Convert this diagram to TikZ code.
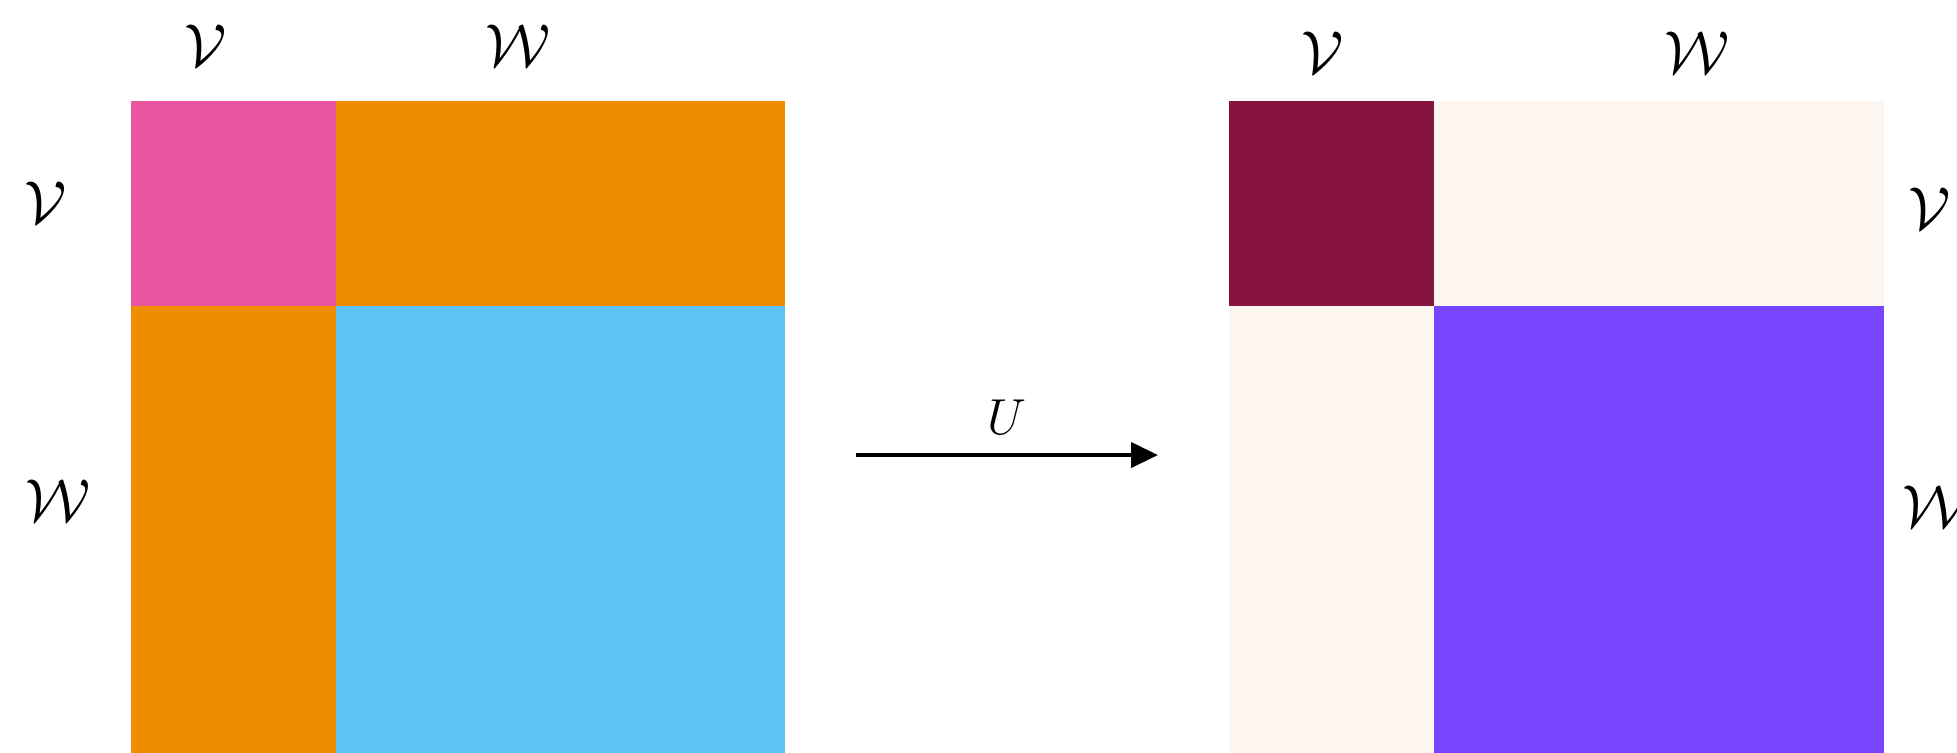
\documentclass[tikz,border=0pt]{standalone}
\usepackage{tikz}
\usetikzlibrary{arrows.meta, positioning}
\definecolor{pinkvv}{HTML}{EA55A0}
\definecolor{orangevw}{HTML}{F08C00}
\definecolor{bluew}{HTML}{5BC4F5}
\definecolor{maroonvv}{HTML}{861340}
\definecolor{creamvw}{HTML}{FDF6F0}
\definecolor{purplew}{HTML}{7744FF}

\begin{document}
\begin{tikzpicture}[
                  block/.style={
                              inner sep=0pt, outer sep=0pt, anchor=north west
                        },
                  lab/.style={font=\fontsize{18.5}{20}\selectfont},
                  arrow/.style={-{Triangle[length=0.27cm, width=0.25cm]}, line width=1.2pt},
            ]
            \useasboundingbox (0,0) rectangle (19.57,-7.52);

            % Left matrix
            \node[block, fill=pinkvv, minimum width=2.05cm, minimum height=2.05cm] (lvv) at (1.31,-1.01) {};
            \node[block, fill=orangevw, minimum width=4.49cm, minimum height=2.05cm] (lvw) at (lvv.north east) {};
            \node[block, fill=orangevw, minimum width=2.05cm, minimum height=4.51cm] (lwv) at (lvv.south west) {};
            \node[block, fill=bluew, minimum width=4.49cm, minimum height=4.51cm] (lww) at (lvv.south east) {};

            % Right matrix
            \node[block, fill=maroonvv, minimum width=2.05cm, minimum height=2.05cm] (rvv) at (12.29,-1.01) {};
            \node[block, fill=creamvw, minimum width=4.50cm, minimum height=2.05cm] (rvw) at (rvv.north east) {};
            \node[block, fill=creamvw, minimum width=2.05cm, minimum height=4.51cm] (rwv) at (rvv.south west) {};
            \node[block, fill=purplew, minimum width=4.50cm, minimum height=4.51cm] (rww) at (rvv.south east) {};

            % Labels
            \node[lab] (ltopv) at (2.06,-0.46) {$\mathcal{V}$};
            \node[lab] (ltopw) at (5.18,-0.46) {$\mathcal{W}$};
            \node[lab] (lsidev) at (0.46,-2.03) {$\mathcal{V}$};
            \node[lab] (lsidew) at (0.58,-5.01) {$\mathcal{W}$};
            \node[lab] (rtopv) at (13.23,-0.53) {$\mathcal{V}$};
            \node[lab] (rtopw) at (16.97,-0.53) {$\mathcal{W}$};
            \node[lab] (rsidev) at (19.30,-2.09) {$\mathcal{V}$};
            \node[lab] (rsidew) at (19.35,-5.07) {$\mathcal{W}$};

            % Map
            \coordinate (from) at (8.56,-4.55);
            \coordinate (to) at (11.58,-4.55);
            \draw[arrow] (from) -- node[above=2pt, font=\Large] (ulab) {$U$} (to);
      \end{tikzpicture}
\end{document}
